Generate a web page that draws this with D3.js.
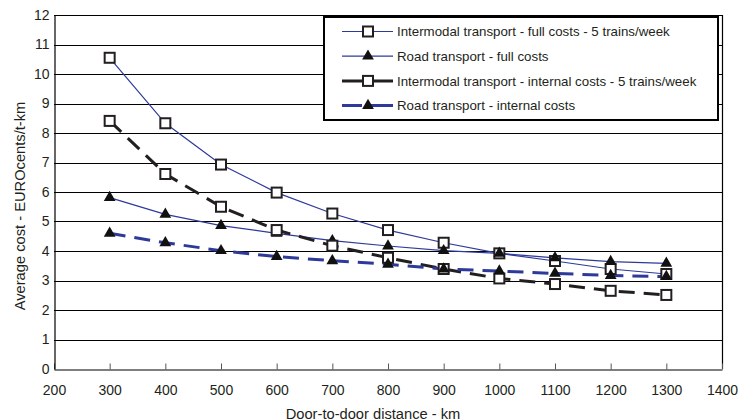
<!DOCTYPE html>
<html>
<head>
<meta charset="utf-8">
<script src="https://cdn.jsdelivr.net/npm/d3@7"></script>
<style>
  body { margin: 0; background: #fff; }
  text { font-family: "Liberation Sans", Arial, sans-serif; fill: #231f20; }
</style>
</head>
<body>
<div id="chart"></div>
<script>
/* DATA */
const distances = [300, 400, 500, 600, 700, 800, 900, 1000, 1100, 1200, 1300];
const intermodalFull = [10.55, 8.33, 6.93, 5.98, 5.27, 4.71, 4.28, 3.92, 3.66, 3.39, 3.22];
const roadFull = [5.81, 5.24, 4.86, 4.6, 4.35, 4.17, 4.01, 3.92, 3.77, 3.64, 3.58];
const intermodalInternal = [8.41, 6.61, 5.5, 4.71, 4.18, 3.77, 3.39, 3.07, 2.88, 2.65, 2.51];
const roadInternal = [4.6, 4.28, 4.01, 3.81, 3.67, 3.55, 3.39, 3.32, 3.24, 3.17, 3.13];
const seriesNames = [
  "Intermodal transport - full costs - 5 trains/week",
  "Road transport - full costs",
  "Intermodal transport - internal costs - 5 trains/week",
  "Road transport - internal costs"
];
const xTicks = [200, 300, 400, 500, 600, 700, 800, 900, 1000, 1100, 1200, 1300, 1400];
const yTicks = [0, 1, 2, 3, 4, 5, 6, 7, 8, 9, 10, 11, 12];

/* CONSTANTS */
const width = 741, height = 420;
const margin = { top: 15, right: 19, bottom: 51, left: 54 };
const blue = "#2e3a9a";

const series = [
  { name: seriesNames[0], values: intermodalFull, color: blue, width: 1.2, dash: null, marker: "square" },
  { name: seriesNames[1], values: roadFull, color: blue, width: 1.2, dash: null, marker: "triangle" },
  { name: seriesNames[2], values: intermodalInternal, color: "#231f20", width: 3, dash: "16,9", marker: "square" },
  { name: seriesNames[3], values: roadInternal, color: blue, width: 3, dash: "16,9", marker: "triangle" }
];

const svg = d3.select("#chart").append("svg")
  .attr("width", width)
  .attr("height", height);

const xScale = d3.scaleLinear().domain([200, 1400]).range([margin.left, width - margin.right]);
const yScale = d3.scaleLinear().domain([0, 12]).range([height - margin.bottom, margin.top]);

// gridlines
svg.append("g")
  .selectAll("line")
  .data(yTicks.slice(1))
  .join("line")
  .attr("x1", margin.left)
  .attr("x2", width - margin.right)
  .attr("y1", d => Math.round(yScale(d)) + 0.5)
  .attr("y2", d => Math.round(yScale(d)) + 0.5)
  .attr("stroke", "#000")
  .attr("stroke-width", 1.2);

// right border
svg.append("line")
  .attr("x1", width - margin.right + 0.5).attr("x2", width - margin.right + 0.5)
  .attr("y1", margin.top).attr("y2", height - margin.bottom)
  .attr("stroke", "#000").attr("stroke-width", 1.2);

// axes
const xAxis = d3.axisBottom(xScale).tickValues(xTicks).tickFormat(d3.format("d"))
  .tickSizeInner(-6).tickSizeOuter(0).tickPadding(16);
const yAxis = d3.axisLeft(yScale).tickValues(yTicks).tickFormat(d3.format("d"))
  .tickSize(0).tickPadding(5);

const xAxisGroup = svg.append("g")
  .attr("transform", `translate(0, ${Math.round(yScale(0)) + 0.5})`)
  .call(xAxis);
const yAxisGroup = svg.append("g")
  .attr("transform", `translate(${margin.left + 0.5}, 0)`)
  .call(yAxis);

[xAxisGroup, yAxisGroup].forEach(g => {
  g.select(".domain").attr("stroke", "#000").attr("stroke-width", 1.2);
  g.selectAll(".tick line").attr("stroke", "#555");
  g.selectAll(".tick text").attr("font-size", 14).attr("fill", "#231f20")
    .attr("font-family", "Liberation Sans, Arial, sans-serif");
});

xAxisGroup.append("text")
  .attr("x", 373)
  .attr("y", 49)
  .attr("text-anchor", "middle")
  .attr("font-size", 14.7)
  .attr("fill", "#231f20")
  .attr("font-family", "Liberation Sans, Arial, sans-serif")
  .text("Door-to-door distance - km");

svg.append("text")
  .attr("transform", `translate(25, ${yScale(6) + 14}) rotate(-90)`)
  .attr("text-anchor", "middle")
  .attr("font-size", 14.7)
  .text("Average cost - EUROcents/t-km");

// lines
const line = d3.line()
  .x((d, i) => xScale(distances[i]))
  .y(d => yScale(d));

const triangle = d3.symbol().type(d3.symbolTriangle).size(60);

function drawMarker(g, type, x, y) {
  if (type === "square") {
    g.append("rect")
      .attr("x", x - 5).attr("y", y - 5)
      .attr("width", 10).attr("height", 10)
      .attr("fill", "#fff")
      .attr("stroke", "#231f20")
      .attr("stroke-width", 2);
  } else {
    g.append("path")
      .attr("d", triangle())
      .attr("transform", `translate(${x}, ${y})`)
      .attr("fill", "#111");
  }
}

series.forEach(s => {
  svg.append("path")
    .datum(s.values)
    .attr("d", line)
    .attr("fill", "none")
    .attr("stroke", s.color)
    .attr("stroke-width", s.width)
    .attr("stroke-dasharray", s.dash);
});

series.forEach(s => {
  const g = svg.append("g");
  s.values.forEach((v, i) => drawMarker(g, s.marker, xScale(distances[i]), yScale(v)));
});

// legend
const legend = svg.append("g");
legend.append("rect")
  .attr("x", 324).attr("y", 17)
  .attr("width", 394).attr("height", 103)
  .attr("fill", "#fff")
  .attr("stroke", "#000")
  .attr("stroke-width", 2);

series.forEach((s, i) => {
  const y = 31.5 + i * 24.7;
  legend.append("line")
    .attr("x1", 342).attr("x2", 393)
    .attr("y1", y).attr("y2", y)
    .attr("stroke", s.color)
    .attr("stroke-width", s.width)
    .attr("stroke-dasharray", s.dash ? "20,4,27" : null);
  drawMarker(legend, s.marker, 368, y);
  legend.append("text")
    .attr("x", 397)
    .attr("y", y)
    .attr("dy", "0.35em")
    .attr("font-size", 13.3)
    .text(s.name);
});
</script>
</body>
</html>
